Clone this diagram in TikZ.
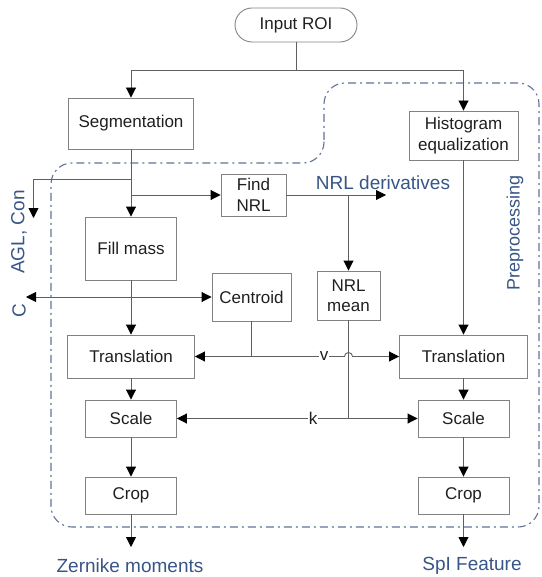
\documentclass[tikz,border=0pt]{standalone}
\usepackage{fontspec}
\setmainfont{Liberation Sans}
\usetikzlibrary{arrows.meta}
\definecolor{lblue}{RGB}{55,85,135}
\definecolor{framec}{RGB}{95,115,150}
\definecolor{boxc}{RGB}{130,130,130}
\definecolor{linec}{RGB}{95,95,95}
\begin{document}
\begin{tikzpicture}[x=1pt,y=-1pt,
  box/.style={draw=boxc, line width=0.9pt, font=\fontsize{17}{20.5}\selectfont, align=center, inner sep=0pt, text=black!88},
  conn/.style={draw=linec, line width=0.9pt},
  arr/.style={conn, -{Triangle[length=10pt,width=10pt,black]}},
  lbl/.style={text=lblue, font=\fontsize{19}{22}\selectfont, inner sep=0pt},
  small/.style={font=\fontsize{17}{20}\selectfont, fill=white, inner sep=1pt, text=black!88}]
\useasboundingbox (0,0) rectangle (541,577);
% preprocessing frame
\draw[framec, line width=1.1pt, dash pattern=on 8pt off 4pt on 2pt off 4pt, rounded corners=21pt]
  (324,140) -- (324,83) -- (539,83) -- (539,527) -- (51,527) -- (51,163) -- (324,163) -- (324,140);
% nodes
\node[box, rounded corners=17pt, minimum width=122pt, minimum height=34pt] (roi) at (296,25) {Input ROI};
\node[box, minimum width=125pt, minimum height=51pt] (seg) at (131,123.5) {Segmentation};
\node[box, minimum width=109pt, minimum height=49pt] (hist) at (463.5,135.5) {Histogram\\equalization};
\node[box, minimum width=65pt, minimum height=42pt] (find) at (253.5,195) {Find\\NRL};
\node[box, minimum width=91pt, minimum height=63pt] (fill) at (131,248.5) {Fill mass};
\node[box, minimum width=79pt, minimum height=48pt] (cent) at (251.5,297) {Centroid};
\node[box, minimum width=63pt, minimum height=49pt] (mean) at (348.5,295.5) {NRL\\mean};
\node[box, minimum width=127pt, minimum height=43pt] (transL) at (131,356.5) {Translation};
\node[box, minimum width=128pt, minimum height=43pt] (transR) at (463.5,356.5) {Translation};
\node[box, minimum width=91pt, minimum height=37pt] (scaleL) at (131,418.5) {Scale};
\node[box, minimum width=91pt, minimum height=37pt] (scaleR) at (463.5,418.5) {Scale};
\node[box, minimum width=91pt, minimum height=37pt] (cropL) at (131,495.5) {Crop};
\node[box, minimum width=91pt, minimum height=37pt] (cropR) at (463.5,495.5) {Crop};
% labels
\node[lbl] (zern) at (130,566) {Zernike moments};
\node[lbl] (spi) at (472,566) {SpI Feature};
\node[lbl] (nrld) at (383,183) {NRL derivatives};
\node[lbl, rotate=90] (agl) at (19,232) {AGL, Con};
\node[lbl, rotate=90] (clbl) at (19,311) {C};
\node[lbl, rotate=90, font=\fontsize{18}{20}\selectfont] (pre) at (515,233) {Preprocessing};
% coordinates
\coordinate (top) at (296,70);
\coordinate (aglb) at (131,179);
\coordinate (aglend) at (33.5,218);
\coordinate (nrlend) at (386,195);
\coordinate (cend) at (26,297);
\coordinate (zend) at (131,547);
\coordinate (send) at (463.5,547);
% connectors
\draw[conn] (roi.south) -- (top);
\draw[arr] (top) -| (seg.north);
\draw[arr] (top) -| (hist.north);
\draw[arr] (seg.south) -- (fill.north);
\draw[arr] (aglb) -| (aglend);
\draw[arr] (find.west -| seg.south) -- (find.west);
\draw[arr] (find.east) -- (nrlend);
\draw[arr] (find.east -| mean.north) -- (mean.north);
\draw[arr] (cent.west -| fill.south) -- (cend);
\draw[arr] (cent.west -| fill.south) -- (cent.west);
\draw[arr] (fill.south) -- (transL.north);
\draw[arr] (hist.south) -- (transR.north);
% v line
\coordinate (vb) at (cent.south |- transL.east);
\coordinate (hop) at (mean.south |- transL.east);
\draw[conn] (cent.south) -- (vb);
\draw[arr] (vb) -- (transL.east);
\draw[arr] (vb) -- ([xshift=-4pt]hop) arc[start angle=180, end angle=0, radius=4pt] -- (transR.west);
\node[small] (vlbl) at (324,356.5) {v};
% k line
\coordinate (kb) at (mean.south |- scaleL.east);
\draw[conn] (mean.south) -- (kb);
\draw[arr] (kb) -- (scaleL.east);
\draw[arr] (kb) -- (scaleR.west);
\node[small] (klbl) at (313,418.5) {k};
% columns
\draw[arr] (transL.south) -- (scaleL.north);
\draw[arr] (scaleL.south) -- (cropL.north);
\draw[arr] (cropL.south) -- (zend);
\draw[arr] (transR.south) -- (scaleR.north);
\draw[arr] (scaleR.south) -- (cropR.north);
\draw[arr] (cropR.south) -- (send);
\end{tikzpicture}
\end{document}
